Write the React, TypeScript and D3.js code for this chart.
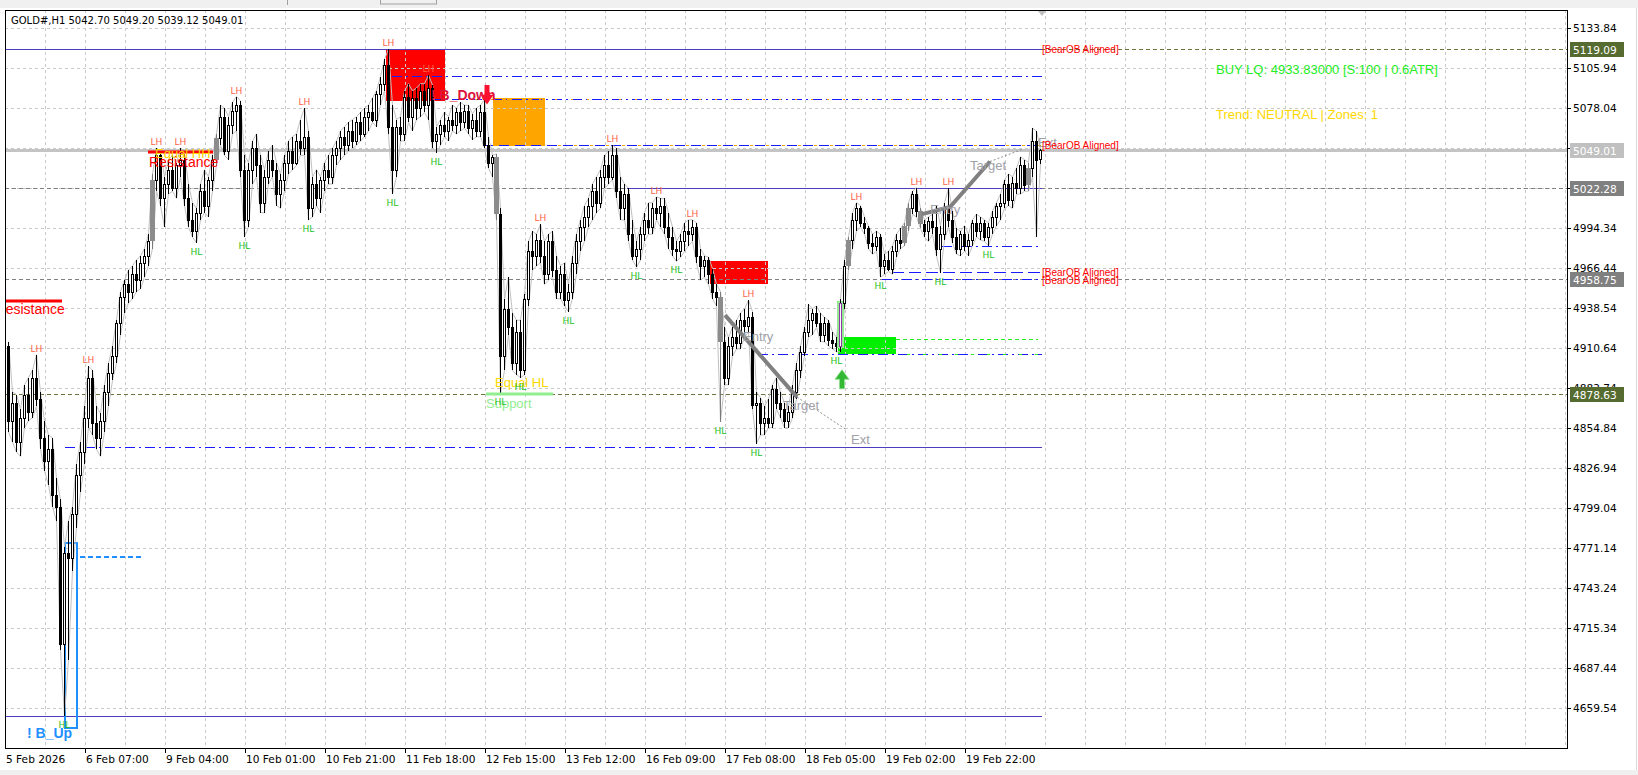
import React from 'react';
import * as d3 from 'd3';

// ---------------- DATA ----------------
type Bar = [number, number, number, number]; // open, high, low, close
const candles: Bar[] = [
  [4912, 4915, 4852, 4860], [4860, 4880, 4845, 4872], [4872, 4878, 4838, 4845], [4845, 4868, 4835, 4862],
  [4862, 4885, 4855, 4878], [4878, 4890, 4860, 4866], [4866, 4895, 4862, 4890], [4890, 4906, 4870, 4875],
  [4875, 4880, 4840, 4848], [4848, 4860, 4825, 4832], [4832, 4850, 4815, 4840], [4840, 4848, 4800, 4808],
  [4808, 4820, 4790, 4800], [4800, 4805, 4700, 4704], [4704, 4772, 4654, 4768], [4768, 4790, 4693, 4764],
  [4764, 4800, 4755, 4795], [4795, 4830, 4785, 4822], [4822, 4845, 4810, 4838], [4838, 4870, 4830, 4862],
  [4862, 4898, 4855, 4890], [4890, 4895, 4850, 4858], [4858, 4870, 4840, 4848], [4848, 4865, 4835, 4860],
  [4860, 4885, 4852, 4880], [4880, 4900, 4870, 4893], [4893, 4912, 4888, 4905], [4905, 4930, 4900, 4928],
  [4928, 4950, 4920, 4946], [4946, 4958, 4935, 4955], [4955, 4965, 4942, 4950], [4950, 4968, 4945, 4962],
  [4962, 4972, 4950, 4958], [4958, 4975, 4952, 4970], [4970, 4980, 4960, 4975], [4975, 4990, 4968, 4985],
  [4985, 5032, 4980, 5028], [5028, 5050, 5020, 5045], [5045, 5048, 5010, 5015], [5015, 5030, 4995, 5025],
  [5025, 5042, 5018, 5035], [5035, 5045, 5020, 5022], [5022, 5040, 5015, 5038], [5038, 5050, 5030, 5042],
  [5042, 5046, 5010, 5015], [5015, 5025, 4995, 5000], [5000, 5012, 4988, 4992], [4992, 5008, 4984, 5005],
  [5005, 5025, 5000, 5020], [5020, 5035, 5005, 5010], [5010, 5030, 5002, 5028], [5028, 5045, 5020, 5042],
  [5042, 5060, 5038, 5057], [5057, 5080, 5052, 5072], [5072, 5078, 5045, 5048], [5048, 5072, 5042, 5066],
  [5066, 5082, 5060, 5076], [5076, 5086, 5062, 5080], [5080, 5083, 5030, 5035], [5035, 5045, 4988, 5000],
  [5000, 5040, 4995, 5035], [5035, 5055, 5025, 5050], [5050, 5060, 5030, 5038], [5038, 5045, 5005, 5012],
  [5012, 5035, 5005, 5030], [5030, 5048, 5025, 5042], [5042, 5052, 5030, 5035], [5035, 5040, 5010, 5018],
  [5018, 5032, 5008, 5028], [5028, 5045, 5020, 5040], [5040, 5055, 5032, 5048], [5048, 5058, 5035, 5040],
  [5040, 5060, 5038, 5055], [5055, 5070, 5045, 5050], [5050, 5078, 5045, 5058], [5058, 5062, 5000, 5008],
  [5008, 5030, 5002, 5025], [5025, 5035, 5010, 5015], [5015, 5030, 5005, 5028], [5028, 5040, 5020, 5035],
  [5035, 5045, 5025, 5030], [5030, 5050, 5025, 5045], [5045, 5055, 5038, 5050], [5050, 5062, 5042, 5058],
  [5058, 5065, 5045, 5052], [5052, 5068, 5048, 5062], [5062, 5070, 5050, 5055], [5055, 5072, 5052, 5068],
  [5068, 5075, 5055, 5060], [5060, 5078, 5058, 5072], [5072, 5080, 5062, 5075], [5075, 5085, 5068, 5070],
  [5070, 5090, 5065, 5088], [5088, 5100, 5080, 5095], [5095, 5112, 5090, 5108], [5108, 5119.09, 5060, 5065],
  [5065, 5080, 5018, 5035], [5035, 5070, 5030, 5065], [5065, 5072, 5055, 5060], [5060, 5090, 5055, 5086],
  [5086, 5095, 5068, 5072], [5072, 5090, 5062, 5085], [5085, 5092, 5070, 5078], [5078, 5095, 5072, 5090],
  [5090, 5095, 5075, 5080], [5080, 5101, 5070, 5092], [5092, 5094, 5050, 5055], [5055, 5065, 5047, 5060],
  [5060, 5070, 5052, 5066], [5066, 5075, 5058, 5062], [5062, 5072, 5055, 5070], [5070, 5080, 5062, 5066],
  [5066, 5078, 5060, 5075], [5075, 5082, 5062, 5068], [5068, 5080, 5064, 5076], [5076, 5080, 5060, 5064],
  [5064, 5074, 5056, 5070], [5070, 5078, 5058, 5062], [5062, 5080, 5058, 5075], [5075, 5084, 5050, 5052],
  [5052, 5058, 5036, 5040], [5040, 5045, 5030, 5044], [5044, 5046, 5000, 5004], [5004, 5008, 4879, 4905],
  [4905, 4945, 4895, 4938], [4938, 4960, 4920, 4925], [4925, 4935, 4895, 4900], [4900, 4930, 4892, 4922],
  [4922, 4930, 4890, 4895], [4895, 4948, 4892, 4945], [4945, 4985, 4940, 4978], [4978, 4992, 4965, 4975],
  [4975, 4990, 4968, 4986], [4986, 4997, 4970, 4975], [4975, 4985, 4955, 4962], [4962, 4990, 4958, 4985],
  [4985, 4992, 4960, 4965], [4965, 4975, 4945, 4950], [4950, 4968, 4945, 4962], [4962, 4970, 4940, 4944],
  [4944, 4955, 4936, 4950], [4950, 4975, 4945, 4970], [4970, 4990, 4962, 4985], [4985, 5000, 4978, 4995],
  [4995, 5010, 4985, 5002], [5002, 5015, 4995, 5010], [5010, 5025, 5000, 5020], [5020, 5030, 5005, 5012],
  [5012, 5035, 5008, 5030], [5030, 5045, 5022, 5038], [5038, 5048, 5025, 5030], [5030, 5052, 5028, 5045],
  [5045, 5050, 5015, 5020], [5020, 5030, 5000, 5008], [5008, 5025, 5000, 5018], [5018, 5022, 4985, 4990],
  [4990, 5000, 4972, 4975], [4975, 4985, 4967, 4980], [4980, 4995, 4972, 4990], [4990, 5005, 4985, 5000],
  [5000, 5012, 4990, 4995], [4995, 5012, 4990, 5008], [5008, 5016, 5000, 5005], [5005, 5015, 4995, 5010],
  [5010, 5015, 4990, 4995], [4995, 5005, 4980, 4988], [4988, 4995, 4975, 4980], [4980, 4985, 4971, 4978],
  [4978, 4990, 4974, 4985], [4985, 4998, 4978, 4992], [4992, 5000, 4982, 4990], [4990, 5000, 4985, 4995],
  [4995, 4998, 4970, 4975], [4975, 4980, 4958, 4968], [4968, 4975, 4960, 4972], [4972, 4974, 4955, 4962],
  [4962, 4966, 4945, 4950], [4950, 4955, 4940, 4946], [4946, 4950, 4859, 4915], [4915, 4925, 4885, 4890],
  [4890, 4918, 4885, 4912], [4912, 4925, 4905, 4918], [4918, 4930, 4910, 4914], [4914, 4935, 4910, 4930],
  [4930, 4938, 4918, 4926], [4926, 4944, 4922, 4932], [4932, 4936, 4868, 4871], [4871, 4880, 4844, 4872],
  [4872, 4876, 4850, 4858], [4858, 4870, 4850, 4862], [4862, 4875, 4855, 4858], [4858, 4885, 4855, 4882],
  [4882, 4890, 4868, 4872], [4872, 4880, 4862, 4868], [4868, 4872, 4855, 4860], [4860, 4870, 4855, 4866],
  [4866, 4885, 4862, 4880], [4880, 4900, 4875, 4895], [4895, 4912, 4890, 4908], [4908, 4925, 4905, 4922],
  [4922, 4941, 4918, 4930], [4930, 4938, 4920, 4935], [4935, 4940, 4925, 4928], [4928, 4935, 4915, 4920],
  [4920, 4932, 4915, 4928], [4928, 4930, 4912, 4916], [4916, 4922, 4910, 4914], [4914, 4918, 4908, 4912],
  [4912, 4945, 4908, 4942], [4942, 4972, 4938, 4968], [4968, 4988, 4965, 4986], [4986, 5005, 4980, 5000],
  [5000, 5012, 4992, 5008], [5008, 5010, 4995, 4998], [4998, 5002, 4990, 4994], [4994, 4996, 4980, 4984],
  [4984, 4990, 4976, 4982], [4982, 4992, 4978, 4988], [4988, 4990, 4960, 4968], [4968, 4976, 4962, 4972],
  [4972, 4978, 4964, 4966], [4966, 4982, 4962, 4978], [4978, 4990, 4974, 4986], [4986, 4994, 4980, 4984],
  [4984, 4998, 4982, 4996], [4996, 5012, 4992, 5008], [5008, 5020, 5004, 5018], [5018, 5022.5, 5002, 5006],
  [5006, 5008, 4994, 4997], [4997, 5000, 4988, 4992], [4992, 5002, 4985, 4999], [4999, 5004, 4990, 4995],
  [4995, 5010, 4975, 4980], [4980, 4996, 4963, 4990], [4990, 5012, 4986, 5008], [5008, 5022, 4995, 5000],
  [5000, 5006, 4984, 4988], [4988, 4994, 4976, 4980], [4980, 4992, 4975, 4990], [4990, 4996, 4978, 4982],
  [4982, 4990, 4975, 4986], [4986, 5000, 4982, 4998], [4998, 5004, 4988, 4992], [4992, 5002, 4986, 4998],
  [4998, 5000, 4985, 4988], [4988, 4998, 4982, 4995], [4995, 5006, 4990, 5002], [5002, 5012, 4996, 5010],
  [5010, 5018, 5000, 5012], [5012, 5028, 5008, 5025], [5025, 5032, 5010, 5014], [5014, 5030, 5008, 5026],
  [5026, 5036, 5018, 5022], [5022, 5044, 5018, 5038], [5038, 5042, 5020, 5024], [5024, 5040, 5020, 5036],
  [5036, 5064, 5030, 5055], [5055, 5062, 4988, 5042], [5042.70, 5049.20, 5039.12, 5049.01],
];
const greyBars = [36, 52, 122, 178, 210, 224, 225, 228, 255];
const purpleBars = [208];
const lhBars = [7, 20, 37, 43, 57, 74, 95, 105, 133, 151, 162, 171, 185, 212, 227, 235];
const hlBars = [14, 47, 59, 75, 96, 107, 123, 128, 140, 157, 167, 178, 187, 207, 218, 233, 245];

const priceTicks = [5133.84, 5105.94, 5078.04, 5050.14, 5022.24, 4994.34, 4966.44, 4938.54, 4910.64,
  4882.74, 4854.84, 4826.94, 4799.04, 4771.14, 4743.24, 4715.34, 4687.44, 4659.54];
const timeLabels = ['5 Feb 2026', '6 Feb 07:00', '9 Feb 04:00', '10 Feb 01:00', '10 Feb 21:00', '11 Feb 18:00',
  '12 Feb 15:00', '13 Feb 12:00', '16 Feb 09:00', '17 Feb 08:00', '18 Feb 05:00', '19 Feb 02:00', '19 Feb 22:00'];
const timeLabelStep = 20;

// price-axis marker labels
const markerLevels = [
  { price: 5119.09, bg: '#556b2f', fg: '#ffffff', line: '#6b7438', dash: '4,3', width: 1 },
  { price: 5049.01, bg: '#c0c0c0', fg: '#ffffff', line: '#c4c4c4', dash: '', width: 3 },
  { price: 5022.28, bg: '#808080', fg: '#ffffff', line: '#808080', dash: '4,3', width: 1 },
  { price: 4958.75, bg: '#808080', fg: '#ffffff', line: '#808080', dash: '4,3', width: 1 },
  { price: 4878.63, bg: '#556b2f', fg: '#ffffff', line: '#6b7438', dash: '4,3', width: 1 },
];

// indicator segment lines: price, from bar, to bar
const segLines = [
  { p: 5119.09, a: -2, b: 258.5, c: '#4b3cc0', dash: '', w: 1 },
  { p: 5100.4, a: 96, b: 258.5, c: '#1a1aff', dash: '10,4,2,4', w: 1 },
  { p: 5084.3, a: 106, b: 258.5, c: '#1a1aff', dash: '10,4,2,4', w: 1 },
  { p: 5084.3, a: 106, b: 258.5, c: '#ffa500', dash: '2,14', w: 1, off: -11 },
  { p: 5052.2, a: 118.75, b: 258.5, c: '#1a1aff', dash: '10,6', w: 1 },
  { p: 5052.2, a: 118.75, b: 258.5, c: '#ffa500', dash: '3,13', w: 1, off: -11 },
  { p: 5022.28, a: 154.75, b: 258.5, c: '#4b3cc0', dash: '', w: 1 },
  { p: 4981.8, a: 233.5, b: 258.5, c: '#1a1aff', dash: '10,4,2,4', w: 1 },
  { p: 4963.6, a: 221, b: 258.5, c: '#1a1aff', dash: '12,5', w: 1 },
  { p: 4958.75, a: 218.5, b: 258.5, c: '#1a1aff', dash: '10,4,2,4', w: 1 },
  { p: 4917.0, a: 222, b: 257.5, c: '#22ee22', dash: '4,3', w: 1 },
  { p: 4906.5, a: 187.5, b: 258.5, c: '#1a1aff', dash: '10,4,2,4', w: 1 },
  { p: 4906.5, a: 222, b: 257.5, c: '#22ee22', dash: '3,13', w: 1, off: -11 },
  { p: 4841.6, a: 14.25, b: 258.5, c: '#1a1aff', dash: '10,4,2,4', w: 1 },
  { p: 4841.6, a: 178, b: 258.5, c: '#4b3cc0', dash: '', w: 1 },
  { p: 4654.3, a: -2, b: 258.5, c: '#4b3cc0', dash: '', w: 1 },
];

// zones: bar range, price range
const zones = [
  { a: 94.5, b: 109.25, top: 5119.09, bot: 5083, fill: '#ff0000' },
  { a: 121.25, b: 134.25, top: 5085, bot: 5051.5, fill: '#ffa500' },
  { a: 175.5, b: 190, top: 4971.3, bot: 4955.3, fill: '#ff0000' },
  { a: 207.5, b: 222, top: 4918.3, bot: 4906.5, fill: '#00f000' },
];

const bearObTags = [5119.09, 5052.2, 4963.6, 4958.75];

// Entry / Target / Ext projections [bar, price]
const projA: [number, number][] = [[179.25, 4933.6], [197.25, 4876.4]];
const projAExt: [number, number][] = [[197.25, 4876.4], [209.75, 4853.4]];
const projB: [number, number][] = [[228.5, 5004], [235.5, 5009], [245.5, 5040.7]];
const projBExt: [number, number][] = [[245.5, 5040.7], [253.75, 5049.4]];

const projTexts = [
  { t: 'Entry', i: 183.75, p: 4915.5 }, { t: 'Target', i: 193.75, p: 4867.5 }, { t: 'Ext', i: 210.75, p: 4843.8 },
  { t: 'Entry', i: 230.5, p: 5004.2 }, { t: 'Target', i: 240.5, p: 5035 }, { t: 'Ext', i: 257.5, p: 5051 },
];

// ---------------- SCALES ----------------
const W = 1638, H = 775;
const L = 5, T = 10, R = 1567, B = 748;
const x = d3.scaleLinear().domain([0, 258]).range([8, 1040]);
const y = d3.scaleLinear().domain([4631.64, 5146.395]).range([B, T]);

const AX = "'DejaVu Sans', Verdana, sans-serif";
const AR = "'Liberation Sans', Arial, sans-serif";

export default function App() {
  const px = (i: number) => Math.round(x(i));
  const py = (p: number) => Math.round(y(p));

  const gridX = d3.range(10, 400, 10).map(i => px(i) - 3).filter(v => v > L && v < R);
  const hiLine = d3.line<Bar>().x((d, i) => px(i) + 0.5).y(d => y(d[1]));
  const loLine = d3.line<Bar>().x((d, i) => px(i) + 0.5).y(d => y(d[2]));
  const pl = d3.line<[number, number]>().x(d => x(d[0])).y(d => y(d[1]));

  const arrow = (cx: number, yTop: number, yBot: number, down: boolean, hw: number, sw: number) => {
    const h = yBot - yTop; const headH = h * 0.5;
    if (down) {
      const m = yBot - headH;
      return `M${cx - sw},${yTop} L${cx + sw},${yTop} L${cx + sw},${m} L${cx + hw},${m} L${cx},${yBot} L${cx - hw},${m} L${cx - sw},${m} Z`;
    }
    const m = yTop + headH;
    return `M${cx - sw},${yBot} L${cx + sw},${yBot} L${cx + sw},${m} L${cx + hw},${m} L${cx},${yTop} L${cx - hw},${m} L${cx - sw},${m} Z`;
  };

  return (
    <svg width={W} height={H} style={{ position: 'fixed', left: 0, top: 0, display: 'block', background: '#fff' }}>
      <defs>
        <clipPath id="plot"><rect x={L} y={T} width={R - L} height={B - T} /></clipPath>
      </defs>
      {/* top toolbar strip */}
      <rect x={0} y={0} width={W} height={8} fill="#f0f0f0" />
      <line x1={287.5} y1={0} x2={287.5} y2={5} stroke="#a0a0a0" />
      <rect x={380.5} y={-4} width={56} height={8} fill="none" stroke="#a0a0a0" />
      <rect x={0} y={770} width={W} height={5} fill="#f0f0f0" />
      <line x1={1636.5} y1={8} x2={1636.5} y2={770} stroke="#d8d8d8" />

      <g clipPath="url(#plot)">
        {/* zones */}
        {zones.map((z, k) => (
          <rect key={'z' + k} x={px(z.a)} y={py(z.top)} width={px(z.b) - px(z.a)} height={py(z.bot) - py(z.top)} fill={z.fill} />
        ))}
        {/* grid */}
        {gridX.map(gx => <line key={'gx' + gx} x1={gx + 0.5} x2={gx + 0.5} y1={T} y2={B} stroke="#c8c8c8" strokeDasharray="3,3" />)}
        {priceTicks.map(p => <line key={'gy' + p} x1={L} x2={R} y1={py(p) + 0.5} y2={py(p) + 0.5} stroke="#c8c8c8" strokeDasharray="3,3" />)}
        {/* marker levels */}
        {markerLevels.map(m => (
          <line key={'ml' + m.price} x1={L} x2={R} y1={py(m.price) + 0.5} y2={py(m.price) + 0.5} stroke={m.line}
            strokeWidth={m.width} strokeDasharray={m.dash || undefined} />
        ))}
        {/* indicator segment lines */}
        {segLines.map((s, k) => (
          <line key={'sl' + k} x1={x(s.a)} x2={x(s.b)} y1={py(s.p) + 0.5} y2={py(s.p) + 0.5} stroke={s.c} strokeWidth={s.w}
            strokeDasharray={s.dash || undefined} strokeDashoffset={(s as any).off || 0} />
        ))}
        {/* B_Up box */}
        <rect x={x(14.25)} y={y(4774.6)} width={x(17.25) - x(14.25)} height={y(4645.6) - y(4774.6)} fill="none" stroke="#1e90ff" strokeWidth={2} />
        <line x1={x(18)} x2={x(33.5)} y1={py(4764.9)} y2={py(4764.9)} stroke="#1e90ff" strokeWidth={2} strokeDasharray="5,3" />
        {/* high / low envelope */}
        <path d={hiLine(candles) || ''} fill="none" stroke="#c0c0c0" strokeWidth={1} />
        <path d={loLine(candles) || ''} fill="none" stroke="#c0c0c0" strokeWidth={1} />
        {/* candles */}
        {candles.map((c, i) => {
          const [o, h, l, cl] = c;
          const cx = px(i);
          const top = py(Math.max(o, cl)), bot = py(Math.min(o, cl));
          const grey = greyBars.includes(i);
          const purple = purpleBars.includes(i);
          const bull = cl >= o;
          const fill = grey ? '#8c8c8c' : bull ? '#ffffff' : '#000000';
          const stroke = grey ? '#7a7a7a' : purple ? '#8a3aa0' : '#000000';
          return (
            <g key={'c' + i}>
              {purple && <rect x={cx - 3} y={top - 2} width={7} height={bot - top + 4} fill="#98e898" />}
              <line x1={cx + 0.5} x2={cx + 0.5} y1={py(h)} y2={py(l)} stroke={grey ? '#7a7a7a' : '#000'} />
              {grey
                ? <rect x={cx - 2} y={top} width={5} height={Math.max(1, bot - top)} fill={fill} />
                : <rect x={cx - 0.5} y={top + 0.5} width={2} height={Math.max(0, bot - top)} fill={fill} stroke={stroke} />}
            </g>
          );
        })}
        {/* projections */}
        <path d={pl(projA) || ''} stroke="#808080" strokeWidth={4} fill="none" strokeLinecap="butt" />
        <path d={pl(projAExt) || ''} stroke="#909090" strokeWidth={1} fill="none" strokeDasharray="2,2" />
        <path d={pl(projB) || ''} stroke="#808080" strokeWidth={4} fill="none" />
        <path d={pl(projBExt) || ''} stroke="#909090" strokeWidth={1} fill="none" strokeDasharray="2,2" />
        {projTexts.map((t, k) => (
          <text key={'pt' + k} x={x(t.i)} y={y(t.p)} fontFamily={AR} fontSize={13} fill="#a0a0a8">{t.t}</text>
        ))}
        {/* resistance / support lines */}
        <line x1={x(-1)} x2={x(13.5)} y1={y(4943.4)} y2={y(4943.4)} stroke="#ff0000" strokeWidth={3} />
        <line x1={x(35)} x2={x(51.25)} y1={y(5047.3)} y2={y(5047.3)} stroke="#ff0000" strokeWidth={3} />
        <line x1={x(119.5)} x2={x(136.25)} y1={y(4878.63)} y2={y(4878.63)} stroke="#90ee90" strokeWidth={3} />
        <text x={x(-1.75)} y={y(4946.9)} fontFamily={AX} fontSize={9} fill="#ff6347" textAnchor="middle">LH</text>
        <text x={x(-3.1)} y={y(4934.3)} fontFamily={AR} fontSize={14} fill="#ff0000">Resistance</text>
        <text x={x(36.75)} y={y(5043.2)} fontFamily={AR} fontSize={13} fill="#ffd700">Equal HH</text>
        <text x={x(35.25)} y={y(5036.9)} fontFamily={AR} fontSize={14} fill="#ff0000">Resistance</text>
        <text x={x(121.75)} y={y(4883.4)} fontFamily={AR} fontSize={13} fill="#ffd700">Equal HL</text>
        <text x={x(119.5)} y={y(4868.8)} fontFamily={AR} fontSize={13} fill="#90ee90">Support</text>
        {/* swing labels */}
        {lhBars.map(i => (
          <text key={'lh' + i} x={px(i) + 0.5} y={py(candles[i][1]) - 3.5} fontFamily={AX} fontSize={9} fill="#ff6347" textAnchor="middle">LH</text>
        ))}
        {hlBars.map(i => (
          <text key={'hl' + i} x={px(i) + 0.5} y={py(candles[i][2]) + 11.5} fontFamily={AX} fontSize={9} fill="#22c022" textAnchor="middle">HL</text>
        ))}
        {/* signal texts / arrows */}
        <text x={x(105.75)} y={y(5083.6)} fontFamily={AR} fontSize={14} fontWeight="bold" fill="#dc143c">! B_Down</text>
        <path d={arrow(x(119.75), y(5094), y(5080.5), true, 6.5, 2.5)} fill="#ff1030" />
        <path d={arrow(x(208.5), y(4895.5), y(4882.2), false, 7, 2.5)} fill="#33b833" stroke="#88dd88" strokeWidth={0.8} />
        <text x={x(4.75)} y={y(4638.6)} fontFamily={AR} fontSize={14} fontWeight="bold" fill="#1e90ff">! B_Up</text>
        {bearObTags.map((p, k) => (
          <text key={'bo' + k} x={x(258.5)} y={y(p) + (k === 3 ? 4.5 : 3.5)} fontFamily={AR} fontSize={10} fill="#ff0000">[BearOB Aligned]</text>
        ))}
        <text x={1216} y={74} fontFamily={AR} fontSize={13} fill="#22ee22">BUY LQ: 4933.83000 [S:100 | 0.6ATR]</text>
        <text x={1216} y={119} fontFamily={AR} fontSize={13} fill="#ffd700">Trend: NEUTRAL | Zones: 1</text>
        {/* chart shift marker */}
        <path d={`M${x(258.5) - 4},${T + 1} L${x(258.5) + 4},${T + 1} L${x(258.5)},${T + 6} Z`} fill="#c0c0c0" />
        {/* title */}
        <text x={11} y={24} fontFamily={AX} fontSize={10} fill="#000">GOLD#,H1  5042.70 5049.20 5039.12 5049.01</text>
      </g>

      {/* frame */}
      <rect x={L + 0.5} y={T + 0.5} width={R - L} height={B - T} fill="none" stroke="#000" />

      {/* price axis */}
      {priceTicks.map(p => (
        <g key={'pt' + p}>
          <line x1={R} x2={R + 4} y1={py(p) + 0.5} y2={py(p) + 0.5} stroke="#000" />
          <text x={R + 6} y={py(p) + 4} fontFamily={AX} fontSize={10.6} fill="#000">{p.toFixed(2)}</text>
        </g>
      ))}
      {markerLevels.map(m => (
        <g key={'mk' + m.price}>
          <rect x={R + 3} y={py(m.price) - 7} width={54} height={15} fill={m.bg} />
          <text x={R + 6} y={py(m.price) + 4.5} fontFamily={AX} fontSize={10.6} fill={m.fg}>{m.price.toFixed(2)}</text>
        </g>
      ))}

      {/* time axis */}
      {timeLabels.map((t, k) => {
        const tx = px(k * timeLabelStep) - 3;
        return (
          <g key={'tl' + k}>
            {k > 0 && <line x1={tx + 0.5} x2={tx + 0.5} y1={B} y2={B + 5} stroke="#000" />}
            <text x={k === 0 ? L + 1 : tx + 1} y={B + 15} fontFamily={AX} fontSize={10.6} fill="#000">{t}</text>
          </g>
        );
      })}
    </svg>
  );
}
